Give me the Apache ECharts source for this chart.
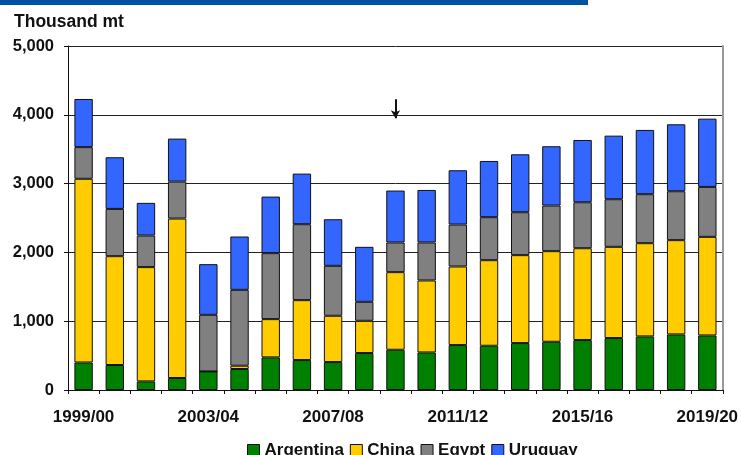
<!DOCTYPE html>
<html>
<head>
<meta charset="utf-8">
<script src="https://cdn.jsdelivr.net/npm/echarts@6/dist/echarts.min.js"></script>
<style>html,body{margin:0;padding:0;background:#fff;}#chart{width:741px;height:455px;}</style>
</head>
<body>
<div id="chart"></div>
<script>
var categories = ['1999/00','2000/01','2001/02','2002/03','2003/04','2004/05','2005/06','2006/07','2007/08','2008/09','2009/10','2010/11','2011/12','2012/13','2013/14','2014/15','2015/16','2016/17','2017/18','2018/19','2019/20'];
var argentina = [400, 363, 125, 174, 270, 305, 474, 435, 406, 537, 585, 546, 653, 643, 682, 701, 726, 755, 779, 808, 793];
var china     = [2670, 1582, 1661, 2318, 0, 48, 556, 871, 673, 469, 1128, 1046, 1142, 1244, 1278, 1317, 1335, 1326, 1355, 1370, 1433];
var egypt     = [460, 687, 459, 537, 823, 1103, 959, 1104, 726, 276, 431, 552, 610, 625, 624, 663, 668, 692, 712, 711, 726];
var uruguay   = [700, 751, 475, 625, 736, 775, 822, 735, 677, 799, 755, 764, 789, 817, 842, 862, 905, 924, 934, 973, 992];
var yTicks = [0, 1000, 2000, 3000, 4000, 5000];
var arrowCategory = '2009/10';
var arrowFrom = 4225;
var arrowTo = 3950;

var chart = echarts.init(document.getElementById('chart'), null, {renderer: 'canvas'});
var FONT = '"Liberation Sans", Arial, sans-serif';
function mk(name, data, color, extra) {
  var s = {
    name: name, type: 'bar', stack: 'total', data: data,
    barCategoryGap: '41%',
    itemStyle: {color: color, borderColor: '#111', borderWidth: 1},
    emphasis: {disabled: true}
  };
  if (extra) Object.assign(s, extra);
  return s;
}
chart.setOption({
  animation: false,
  backgroundColor: '#fff',
  title: {
    text: 'Thousand mt', left: 9, top: 8,
    textStyle: {fontFamily: FONT, fontSize: 17.5, fontWeight: 'bold', color: '#111'}
  },
  graphic: [{
    type: 'rect', shape: {x: 0, y: 0, width: 588, height: 5},
    style: {fill: '#0052a3'}, silent: true
  }],
  legend: {
    data: ['Argentina', 'China', 'Egypt', 'Uruguay'],
    left: 242, top: 437, itemWidth: 12, itemHeight: 12, itemGap: 6,
    icon: 'rect',
    itemStyle: {borderColor: '#111', borderWidth: 1},
    textStyle: {fontFamily: FONT, fontSize: 17, fontWeight: 'bold', color: '#111', padding: [0, 0, 0, 0]}
  },
  grid: {left: 68, right: 16, top: 46, bottom: 65, containLabel: false},
  xAxis: {
    type: 'category', data: categories,
    axisLine: {lineStyle: {color: '#111', width: 1}},
    axisTick: {show: true, interval: 0, alignWithLabel: false, length: 4, lineStyle: {color: '#111'}},
    axisLabel: {interval: 3, margin: 19, fontFamily: FONT, fontSize: 17, fontWeight: 'bold', color: '#111'}
  },
  yAxis: [{
    type: 'value', min: yTicks[0], max: yTicks[yTicks.length - 1], interval: yTicks[1] - yTicks[0],
    axisLine: {show: true, lineStyle: {color: '#111', width: 1}},
    axisTick: {show: true, length: 4, lineStyle: {color: '#111'}},
    splitLine: {show: true, lineStyle: {color: '#222', width: 1}},
    axisLabel: {
      margin: 14, fontFamily: FONT, fontSize: 16.5, fontWeight: 'bold', color: '#111',
      formatter: function (v) { return v.toLocaleString('en-US'); }
    }
  }, {
    type: 'value', position: 'right', min: yTicks[0], max: yTicks[yTicks.length - 1], interval: yTicks[1] - yTicks[0],
    axisLine: {show: true, lineStyle: {color: '#999', width: 2}},
    axisTick: {show: false}, axisLabel: {show: false}, splitLine: {show: false}
  }],
  series: [
    mk('Argentina', argentina, '#008000'),
    mk('China', china, '#ffcc00'),
    mk('Egypt', egypt, '#808080'),
    mk('Uruguay', uruguay, '#3366ff', {
      markLine: {
        silent: true, symbol: ['none', 'arrow'], symbolSize: [7, 8],
        label: {show: false},
        lineStyle: {color: '#111', width: 2, type: 'solid'},
        data: [[{coord: [arrowCategory, arrowFrom]}, {coord: [arrowCategory, arrowTo]}]]
      }
    })
  ]
});
</script>
</body>
</html>
